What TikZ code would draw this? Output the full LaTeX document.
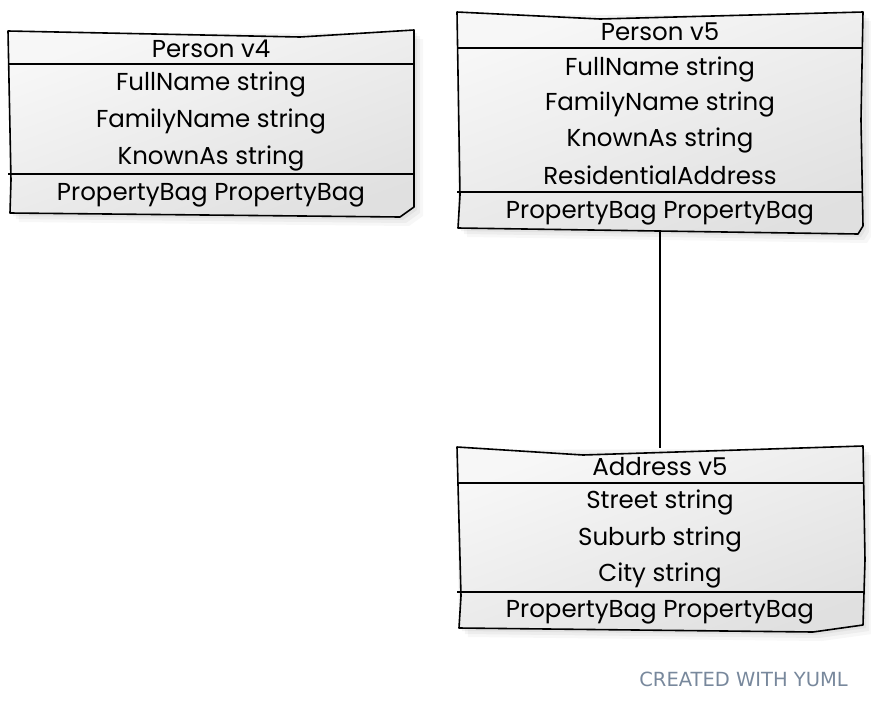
\documentclass[tikz,border=0pt]{standalone}
\usepackage{fontspec}
\setmainfont{Poppins}
\newfontfamily\footfont{DejaVu Sans}
\begin{document}
\begin{tikzpicture}[x=1pt,y=-1pt,
  boxfill/.style={top color=white!97!black,bottom color=white!88!black,shading angle=20},
  sketch/.style={draw=black,line width=1.6pt,line join=round,line cap=round},
  rule/.style={draw=black,line width=1.4pt},
  lbl/.style={inner sep=0pt,yshift=-2pt,font=\fontsize{24.5}{28}\selectfont,text=black},
  foot/.style={inner sep=0pt,font=\footfont\fontsize{19.5}{21}\selectfont,text={rgb,255:red,120;green,136;blue,156}}]
\useasboundingbox (0,0) rectangle (871,710);

% ---------- Person v4 ----------
\foreach \d/\o in {3/0.05,6/0.04,9/0.03}{
  \fill[black,opacity=\o] (8+\d,31+\d) -- (414+\d,30+\d) -- (414+\d,207+\d) -- (400+\d,217+\d) -- (10+\d,213+\d) -- cycle;}
\shade[boxfill] (8,31) -- (300,37) -- (414,30) -- (414,207) -- (400,217) -- (10,213) -- cycle;
\draw[sketch] (8,31) -- (300,37) -- (414,30) -- (414,207) -- (400,217) -- (10,213) -- (11,180) -- (8,31);
\draw[rule] (8,64) -- (414,64);
\draw[rule] (8,174) -- (414,174);
\node[lbl] (p4t) at (211,47) {Person v4};
\node[lbl] (p4a) at (211,82) {FullName string};
\node[lbl] (p4b) at (211,119) {FamilyName string};
\node[lbl] (p4c) at (211,156) {KnownAs string};
\node[lbl] (p4m) at (211,193) {PropertyBag PropertyBag};

% ---------- Person v5 ----------
\foreach \d/\o in {3/0.05,6/0.04,9/0.03}{
  \fill[black,opacity=\o] (457+\d,12+\d) -- (863+\d,12+\d) -- (863+\d,226+\d) -- (858+\d,234+\d) -- (458+\d,228+\d) -- cycle;}
\shade[boxfill] (457,12) -- (600,19) -- (863,12) -- (863,226) -- (858,234) -- (458,228) -- cycle;
\draw[sketch] (457,12) -- (600,19) -- (863,12) -- (861,120) -- (863,226) -- (858,234) -- (458,228) -- (460,195) -- (457,12);
\draw[rule] (457,48) -- (863,48);
\draw[rule] (457,192) -- (863,192);
\node[lbl] (p5t) at (660,30) {Person v5};
\node[lbl] (p5a) at (660,67) {FullName string};
\node[lbl] (p5b) at (660,102) {FamilyName string};
\node[lbl] (p5c) at (660,138) {KnownAs string};
\node[lbl] (p5d) at (660,173) {ResidentialAddress};
\node[lbl] (p5m) at (660,211) {PropertyBag PropertyBag};

% ---------- Address v5 ----------
\foreach \d/\o in {3/0.05,6/0.04,9/0.03}{
  \fill[black,opacity=\o] (457+\d,447+\d) -- (863+\d,446+\d) -- (863+\d,625+\d) -- (813+\d,632+\d) -- (459+\d,628+\d) -- cycle;}
\shade[boxfill] (457,447) -- (583,455) -- (863,446) -- (865,560) -- (863,625) -- (813,632) -- (459,628) -- cycle;
\draw[sketch] (457,447) -- (583,455) -- (863,446) -- (865,560) -- (863,625) -- (813,632) -- (459,628) -- (461,596) -- (457,447);
\draw[rule] (457,483) -- (863,483);
\draw[rule] (457,592) -- (863,592);
\node[lbl] (a5t) at (660,465) {Address v5};
\node[lbl] (a5a) at (660,500) {Street string};
\node[lbl] (a5b) at (660,537) {Suburb string};
\node[lbl] (a5c) at (660,573) {City string};
\node[lbl] (a5m) at (660,610) {PropertyBag PropertyBag};

% ---------- connector ----------
\coordinate (p5bot) at (660,230);
\coordinate (a5top) at (660,448);
\draw[line width=1.6pt] (p5bot) -- (a5top);

% ---------- footer ----------
\node[foot,anchor=east] (ft) at (848,679) {CREATED WITH YUML};
\end{tikzpicture}
\end{document}
